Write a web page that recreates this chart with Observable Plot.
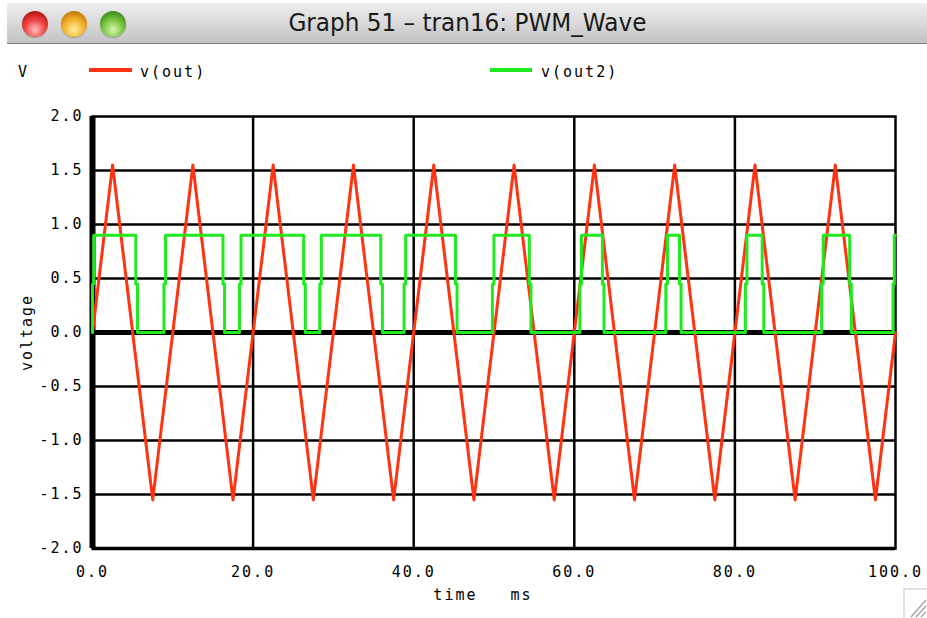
<!DOCTYPE html>
<html>
<head>
<meta charset="utf-8">
<script src="https://cdn.jsdelivr.net/npm/d3@7"></script>
<script src="https://cdn.jsdelivr.net/npm/@observablehq/plot@0.6"></script>
<style>
  body { margin: 0; background: #fff; }
  #win { position: relative; width: 927px; height: 618px; overflow: hidden; background: #fff; font-family: "DejaVu Sans Mono", monospace; }
  #titlebar { position: absolute; left: 7px; top: 3px; width: 920px; height: 40px;
    background: linear-gradient(#eeeeee, #d9d9d9 50%, #c3c3c3); border-bottom: 1px solid #808080; }
  .light { position: absolute; top: 8px; width: 26px; height: 26px; border-radius: 50%; box-shadow: 0 1px 1px rgba(0,0,0,0.25); }
  #l1 { left: 15px; background: radial-gradient(circle at 50% 72%, #ffc0c0 0%, #f04040 45%, #b01818 80%, #7a0c0c 100%); }
  #l2 { left: 54px; background: radial-gradient(circle at 50% 72%, #fff0a0 0%, #f2b22a 45%, #c47a08 80%, #8a5200 100%); }
  #l3 { left: 93px; background: radial-gradient(circle at 50% 72%, #d8f8b0 0%, #78c440 45%, #3f8a1a 80%, #25600c 100%); }
  #title { position: absolute; left: 0; top: 5px; width: 920px; text-align: center; font-family: "DejaVu Sans", sans-serif; font-size: 25px; line-height: 30px; color: #1a1a1a; }
  #title span { display: inline-block; transform-origin: center; }
  .leg { position: absolute; top: 63px; font-size: 15px; line-height: 18px; letter-spacing: 2px; color: #000; white-space: pre; }
  .sw { position: absolute; top: 68px; height: 4px; }
  #chart { position: absolute; left: 0; top: 90px; }
  #grip { position: absolute; left: 903px; top: 588px; }
</style>
</head>
<body>
<div id="win">
  <div id="titlebar">
    <div class="light" id="l1"></div>
    <div class="light" id="l2"></div>
    <div class="light" id="l3"></div>
    <div id="title"><span id="titletext">Graph 51 – tran16: PWM_Wave</span></div>
  </div>
  <div class="leg" style="left:18px">V</div>
  <div class="sw" style="left:89px;width:43px;background:#ff3311"></div>
  <div class="leg" style="left:140px">v(out)</div>
  <div class="sw" style="left:490px;width:42px;background:#1eea1e"></div>
  <div class="leg" style="left:541px">v(out2)</div>
  <div id="chart"></div>
  <svg id="grip" width="24" height="30">
    <path d="M1,30 V1 H24" fill="none" stroke="#d8d8d8" stroke-width="1.5"/>
    <path d="M8,29 L23,12 M13,29 L23,18 M18,29 L23,24" stroke="#a0a0a0" stroke-width="1.3"/>
  </svg>
</div>
<script>
// v(out): triangle wave vertices (time ms, volts)
const redT = [0, 2.5, 7.5, 12.5, 17.5, 22.5, 27.5, 32.5, 37.5, 42.5, 47.5, 52.5, 57.5, 62.5, 67.5, 72.5, 77.5, 82.5, 87.5, 92.5, 97.5, 100];
const redV = [0, 1.55, -1.55, 1.55, -1.55, 1.55, -1.55, 1.55, -1.55, 1.55, -1.55, 1.55, -1.55, 1.55, -1.55, 1.55, -1.55, 1.55, -1.55, 1.55, -1.55, 0];

// v(out2): PWM levels, each held from its time until the next (step-after)
const greenT = [0, 0, 0.15, 5.4, 5.6, 8.9, 9.1, 16.25, 16.45, 18.3, 18.5, 26.3, 26.5, 28.3, 28.5, 35.9, 36.1, 38.8, 39.0, 45.2, 45.4, 49.8, 50.0, 54.4, 54.6, 60.7, 60.9, 63.5, 63.7, 71.4, 71.6, 73.1, 73.3, 81.3, 81.5, 83.4, 83.6, 90.8, 91.0, 94.3, 94.5, 99.7, 99.85, 100];
const greenV = [0, 0.45, 0.9, 0.45, 0, 0.45, 0.9, 0.45, 0, 0.45, 0.9, 0.45, 0, 0.45, 0.9, 0.45, 0, 0.45, 0.9, 0.45, 0, 0.45, 0.9, 0.45, 0, 0.45, 0.9, 0.45, 0, 0.45, 0.9, 0.45, 0, 0.45, 0.9, 0.45, 0, 0.45, 0.9, 0.45, 0, 0.45, 0.9, 0.9];

const xTicks = [0, 20, 40, 60, 80, 100];
const yTicks = [-2, -1.5, -1, -0.5, 0, 0.5, 1, 1.5, 2];
const xTitle = "time\u00a0\u00a0\u00a0ms";
const yTitle = "voltage";

const red = redT.map((t, i) => ({t, v: redV[i]}));
const green = greenT.map((t, i) => ({t, v: greenV[i]}));

const chart = Plot.plot({
  width: 927,
  height: 528,
  marginLeft: 92,
  marginRight: 32,
  marginTop: 26,
  marginBottom: 70,
  style: {fontFamily: "DejaVu Sans Mono, monospace", fontSize: "15px", letterSpacing: "2px", background: "white", color: "#000"},
  x: {domain: [0, 100]},
  y: {domain: [-2, 2]},
  marks: [
    Plot.ruleY(yTicks.filter(d => d !== 0 && d !== -2 && d !== 2), {stroke: "black", strokeWidth: 2.5}),
    Plot.ruleX(xTicks.filter(d => d !== 0 && d !== 100), {stroke: "black", strokeWidth: 2.5}),
    Plot.frame({stroke: "black", strokeWidth: 2.5}),
    Plot.ruleY([-2], {stroke: "black", strokeWidth: 3.5}),
    Plot.ruleY([0], {stroke: "black", strokeWidth: 5}),
    Plot.ruleX([0], {stroke: "black", strokeWidth: 6}),
    Plot.line(red, {x: "t", y: "v", stroke: "#ff3311", strokeWidth: 3}),
    Plot.line(green, {x: "t", y: "v", curve: "step-after", stroke: "#1eea1e", strokeWidth: 3}),
    Plot.axisX({ticks: xTicks, tickSize: 0, tickPadding: 18, tickFormat: d => d.toFixed(1), label: null}),
    Plot.axisY({ticks: yTicks, tickSize: 0, tickPadding: 9, tickFormat: d => d.toFixed(1), label: null}),
    Plot.text([yTitle], {frameAnchor: "left", textAnchor: "middle", dx: -65, rotate: -90, fill: "#000"}),
    Plot.text([xTitle], {frameAnchor: "bottom", dx: -11, dy: 51, fill: "#000"})
  ]
});
document.getElementById("chart").appendChild(chart);

// fit the title to the window title width
const tt = document.getElementById("titletext");
const w = tt.getBoundingClientRect().width;
tt.style.transform = `scaleX(${358 / w})`;
</script>
</body>
</html>
